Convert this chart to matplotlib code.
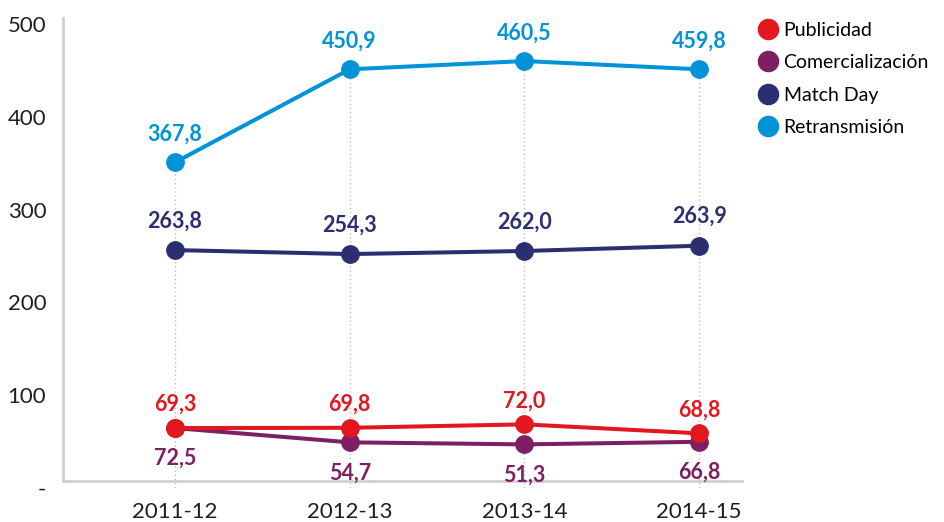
import matplotlib
matplotlib.use("Agg")
import matplotlib.pyplot as plt
from matplotlib.lines import Line2D

plt.rcParams['font.family'] = ['Lato', 'DejaVu Sans']

seasons = ['2011-12', '2012-13', '2013-14', '2014-15']
series_names = ['Publicidad', 'Comercialización', 'Match Day', 'Retransmisión']

# values as they sit on the chart
publicidad = [64.4, 64.7, 68.4, 58.7]
comercializacion = [64.4, 49.0, 46.8, 49.6]
match_day = [256.3, 252.0, 255.3, 261.0]
retransmision = [350.9, 451.2, 460.1, 451.2]

# printed labels
publicidad_labels = ['69,3', '69,8', '72,0', '68,8']
comercializacion_labels = ['72,5', '54,7', '51,3', '66,8']
match_day_labels = ['263,8', '254,3', '262,0', '263,9']
retransmision_labels = ['367,8', '450,9', '460,5', '459,8']

y_ticks = [0, 100, 200, 300, 400, 500]
y_tick_labels = ['-', '100', '200', '300', '400', '500']

colors = {
    'Publicidad': '#E3171F',
    'Comercialización': '#7D1F62',
    'Match Day': '#2B2F72',
    'Retransmisión': '#0093D8',
}

fig = plt.figure(figsize=(9.44, 5.22), dpi=100)
ax = fig.add_axes([0.0667, 0.0785 - 7.3 * 0.9275 / 522, 0.7195, 0.8870 + 7.3 * 0.9275 / 522])

x = list(range(len(seasons)))

# dotted guides from the axis up to the highest point of each season
tops = [max(v) for v in zip(publicidad, comercializacion, match_day, retransmision)]
ax.vlines(x, 0, tops, colors='#bdbdbd', linestyles=(0, (1, 2)), linewidth=1, zorder=1)

series = [
    ('Comercialización', comercializacion, comercializacion_labels, -22, 3),
    ('Publicidad', publicidad, publicidad_labels, 17, 4),
    ('Match Day', match_day, match_day_labels, 21, 3),
    ('Retransmisión', retransmision, retransmision_labels, 20, 3),
]

for name, vals, labels, off, z in series:
    c = colors[name]
    ax.plot(x, vals, color=c, linewidth=2.9, marker='o', markersize=12.5,
            solid_capstyle='round', zorder=z)
    for xi, v, lab in zip(x, vals, labels):
        ax.annotate(lab, (xi, v), xytext=(0, off), textcoords='offset points',
                    ha='center', va='center', fontsize=15.5, fontweight='bold',
                    color=c, zorder=5)

ax.set_xlim(-0.641, 3.246)
ax.set_ylim(0, 506.5)

ax.set_xticks(x)
ax.set_xticklabels(seasons)
ax.set_yticks(y_ticks)
ax.set_yticklabels(y_tick_labels)
ax.tick_params(length=0, labelsize=16, labelcolor='#1e1e1e')
ax.tick_params(axis='x', pad=15)
ax.tick_params(axis='y', pad=12)

for s in ['top', 'right']:
    ax.spines[s].set_visible(False)
ax.spines['bottom'].set_position(('data', 7.3))
ax.spines['left'].set_bounds(7.3, 506.5)
for s in ['left', 'bottom']:
    ax.spines[s].set_color('#d0d0d0')
    ax.spines[s].set_linewidth(2)

handles = [Line2D([], [], linestyle='none', marker='o', markersize=14.5,
                  color=colors[n]) for n in series_names]
fig.legend(handles, series_names, loc='upper left', bbox_to_anchor=(0.793, 0.973),
           frameon=False, fontsize=14, handletextpad=0.2, labelspacing=0.79,
           handlelength=1.2, borderaxespad=0)

fig.savefig('out.png', dpi=100)
